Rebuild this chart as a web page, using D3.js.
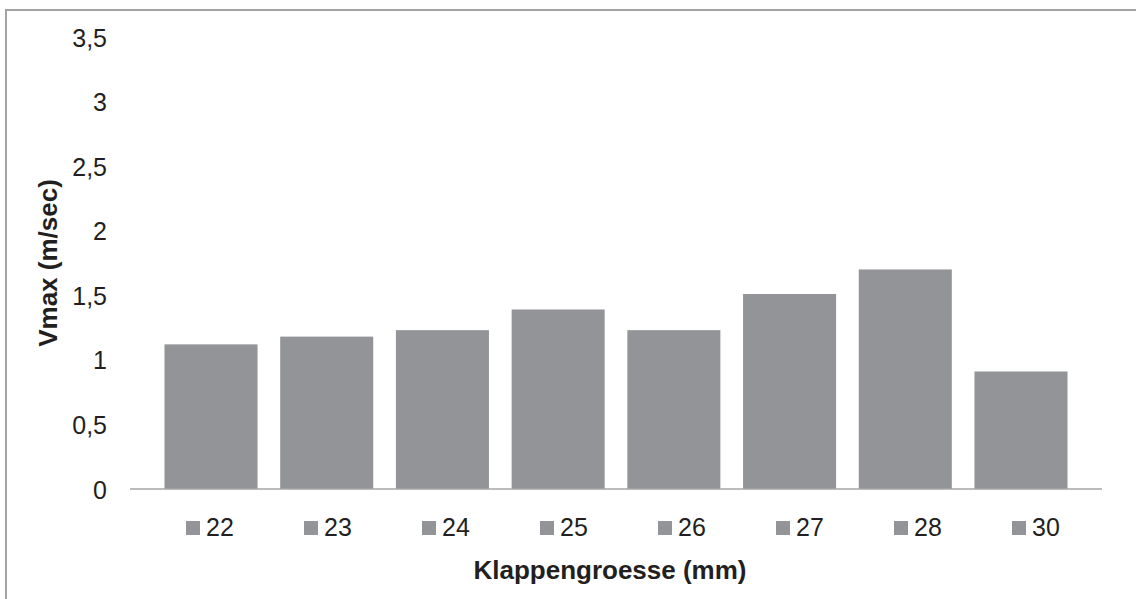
<!DOCTYPE html>
<html>
<head>
<meta charset="utf-8">
<script src="https://cdn.jsdelivr.net/npm/d3@7"></script>
<style>
  body { margin: 0; background: #fff; }
  svg { display: block; font-family: "Liberation Sans", Arial, sans-serif; }
</style>
</head>
<body>
<div id="chart"></div>
<script>
const categories = ["22", "23", "24", "25", "26", "27", "28", "30"];
const vmax = [1.12, 1.18, 1.23, 1.39, 1.23, 1.51, 1.70, 0.91];
const yTicks = [0, 0.5, 1, 1.5, 2, 2.5, 3, 3.5];

const width = 1136;
const height = 599;
const barColor = "#939498";
const textColor = "#231f20";

const svg = d3.select("#chart")
  .append("svg")
  .attr("width", width)
  .attr("height", height);

// Rahmen (rechts und unten außerhalb des Bildes)
svg.append("rect")
  .attr("x", 6)
  .attr("y", 10)
  .attr("width", width + 20)
  .attr("height", height + 20)
  .attr("fill", "none")
  .attr("stroke", "#a3a3a3")
  .attr("stroke-width", 2);

const x = d3.scaleBand()
  .domain(categories)
  .range([130, 1102])
  .paddingInner(0.196)
  .paddingOuter(0.298);

const y = d3.scaleLinear()
  .domain([0, 3.5])
  .range([489, 37]);

const fmt = d3.formatLocale({ decimal: ",", thousands: ".", grouping: [3], currency: ["", "€"] }).format("~g");

// Balken
svg.selectAll(".bar")
  .data(categories.map((c, i) => ({ c, v: vmax[i] })))
  .enter()
  .append("rect")
  .attr("class", "bar")
  .attr("x", (d) => x(d.c))
  .attr("y", (d) => y(d.v))
  .attr("width", x.bandwidth())
  .attr("height", (d) => y(0) - y(d.v))
  .attr("fill", barColor);

// Y-Achse
const yAxis = svg.append("g")
  .attr("transform", "translate(107,0)")
  .call(d3.axisLeft(y).tickValues(yTicks).tickSize(0).tickPadding(0).tickFormat(fmt));
yAxis.select(".domain").remove();
yAxis.selectAll("text")
  .attr("fill", textColor)
  .style("font-size", "25px")
  .attr("dy", "0.36em");

// X-Achsenlinie
svg.append("line")
  .attr("x1", 130)
  .attr("x2", 1102)
  .attr("y1", y(0))
  .attr("y2", y(0))
  .attr("stroke", "#a6a6a6")
  .attr("stroke-width", 1.5);

// Legende
const lx = d3.scalePoint().domain(categories).range([186, 1012]);
const legend = svg.selectAll(".legend")
  .data(categories)
  .enter()
  .append("g")
  .attr("class", "legend")
  .attr("transform", (d) => `translate(${lx(d)},521)`);

legend.append("rect")
  .attr("width", 14)
  .attr("height", 14)
  .attr("fill", barColor);

legend.append("text")
  .attr("x", 20)
  .attr("y", 15)
  .attr("fill", textColor)
  .style("font-size", "25px")
  .text((d) => d);

// Achsentitel
svg.append("text")
  .attr("x", 610)
  .attr("y", 579)
  .attr("text-anchor", "middle")
  .attr("fill", textColor)
  .style("font-size", "26px")
  .style("font-weight", "bold")
  .text("Klappengroesse (mm)");

svg.append("text")
  .attr("transform", `translate(57,${(y(0) + y(3.5)) / 2}) rotate(-90)`)
  .attr("text-anchor", "middle")
  .attr("fill", textColor)
  .style("font-size", "26px")
  .style("font-weight", "bold")
  .text("Vmax (m/sec)");
</script>
</body>
</html>
